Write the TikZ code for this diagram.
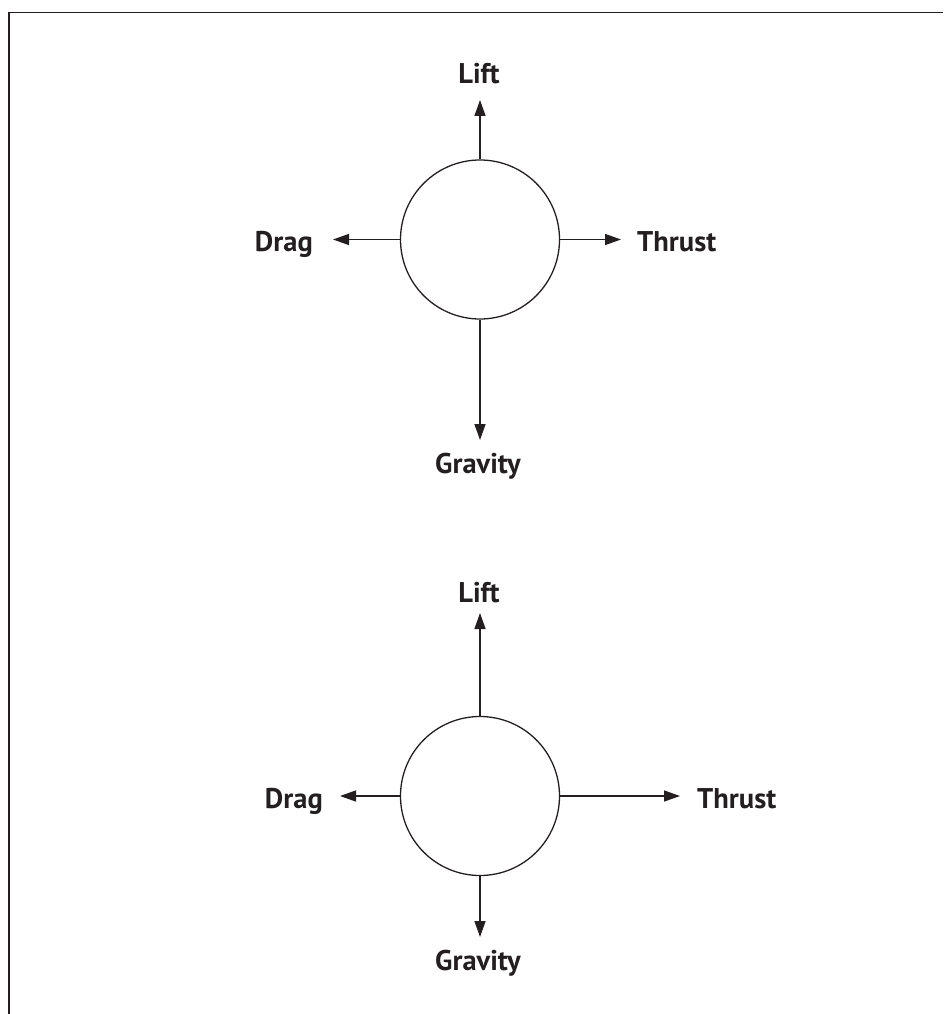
\documentclass[tikz,border=0pt]{standalone}
\usepackage{fontspec}
\setmainfont{PT Sans}
\usetikzlibrary{arrows.meta}
\definecolor{ink}{RGB}{35,31,32}
\begin{document}
\begin{tikzpicture}[x=1pt,y=-1pt,color=ink,
  body/.style={circle,draw,line width=1.3pt,minimum size=159pt,inner sep=0pt},
  force/.style={line width=1.4pt,-{Triangle[length=16pt,width=11pt]}},
  lbl/.style={inner sep=0pt,font=\fontsize{28.5}{30}\selectfont\bfseries}]
\useasboundingbox (0,0) rectangle (943,1014);
% open frame: top and left edges only
\draw[line width=1.8pt] (943,12.5) -- (9,12.5) -- (9,1014);

% upper free-body diagram
\node[body] (c1) at (480,239.5) {};
\coordinate (l1) at (480,100);
\coordinate (g1) at (480,440);
\coordinate (d1) at (333,239.5);
\coordinate (t1) at (621,239.5);
\draw[force] (c1.north) -- (l1);
\draw[force] (c1.south) -- (g1);
\draw[force] (c1.west) -- (d1);
\draw[force] (c1.east) -- (t1);
\node[lbl,anchor=base] (L1) at (479,84) {Lift};
\node[lbl,anchor=base] (G1) at (478,473) {Gravity};
\node[lbl,anchor=base east] (D1) at (313,251.5) {Drag};
\node[lbl,anchor=base west] (T1) at (637,251.5) {Thrust};

% lower free-body diagram
\node[body] (c2) at (480,796) {};
\coordinate (l2) at (480,613);
\coordinate (g2) at (480,937);
\coordinate (d2) at (340,796);
\coordinate (t2) at (680,796);
\draw[force] (c2.north) -- (l2);
\draw[force] (c2.south) -- (g2);
\draw[force] (c2.west) -- (d2);
\draw[force] (c2.east) -- (t2);
\node[lbl,anchor=base] (L2) at (479,602) {Lift};
\node[lbl,anchor=base] (G2) at (478,970) {Gravity};
\node[lbl,anchor=base east] (D2) at (323,808) {Drag};
\node[lbl,anchor=base west] (T2) at (697,808) {Thrust};
\end{tikzpicture}
\end{document}
